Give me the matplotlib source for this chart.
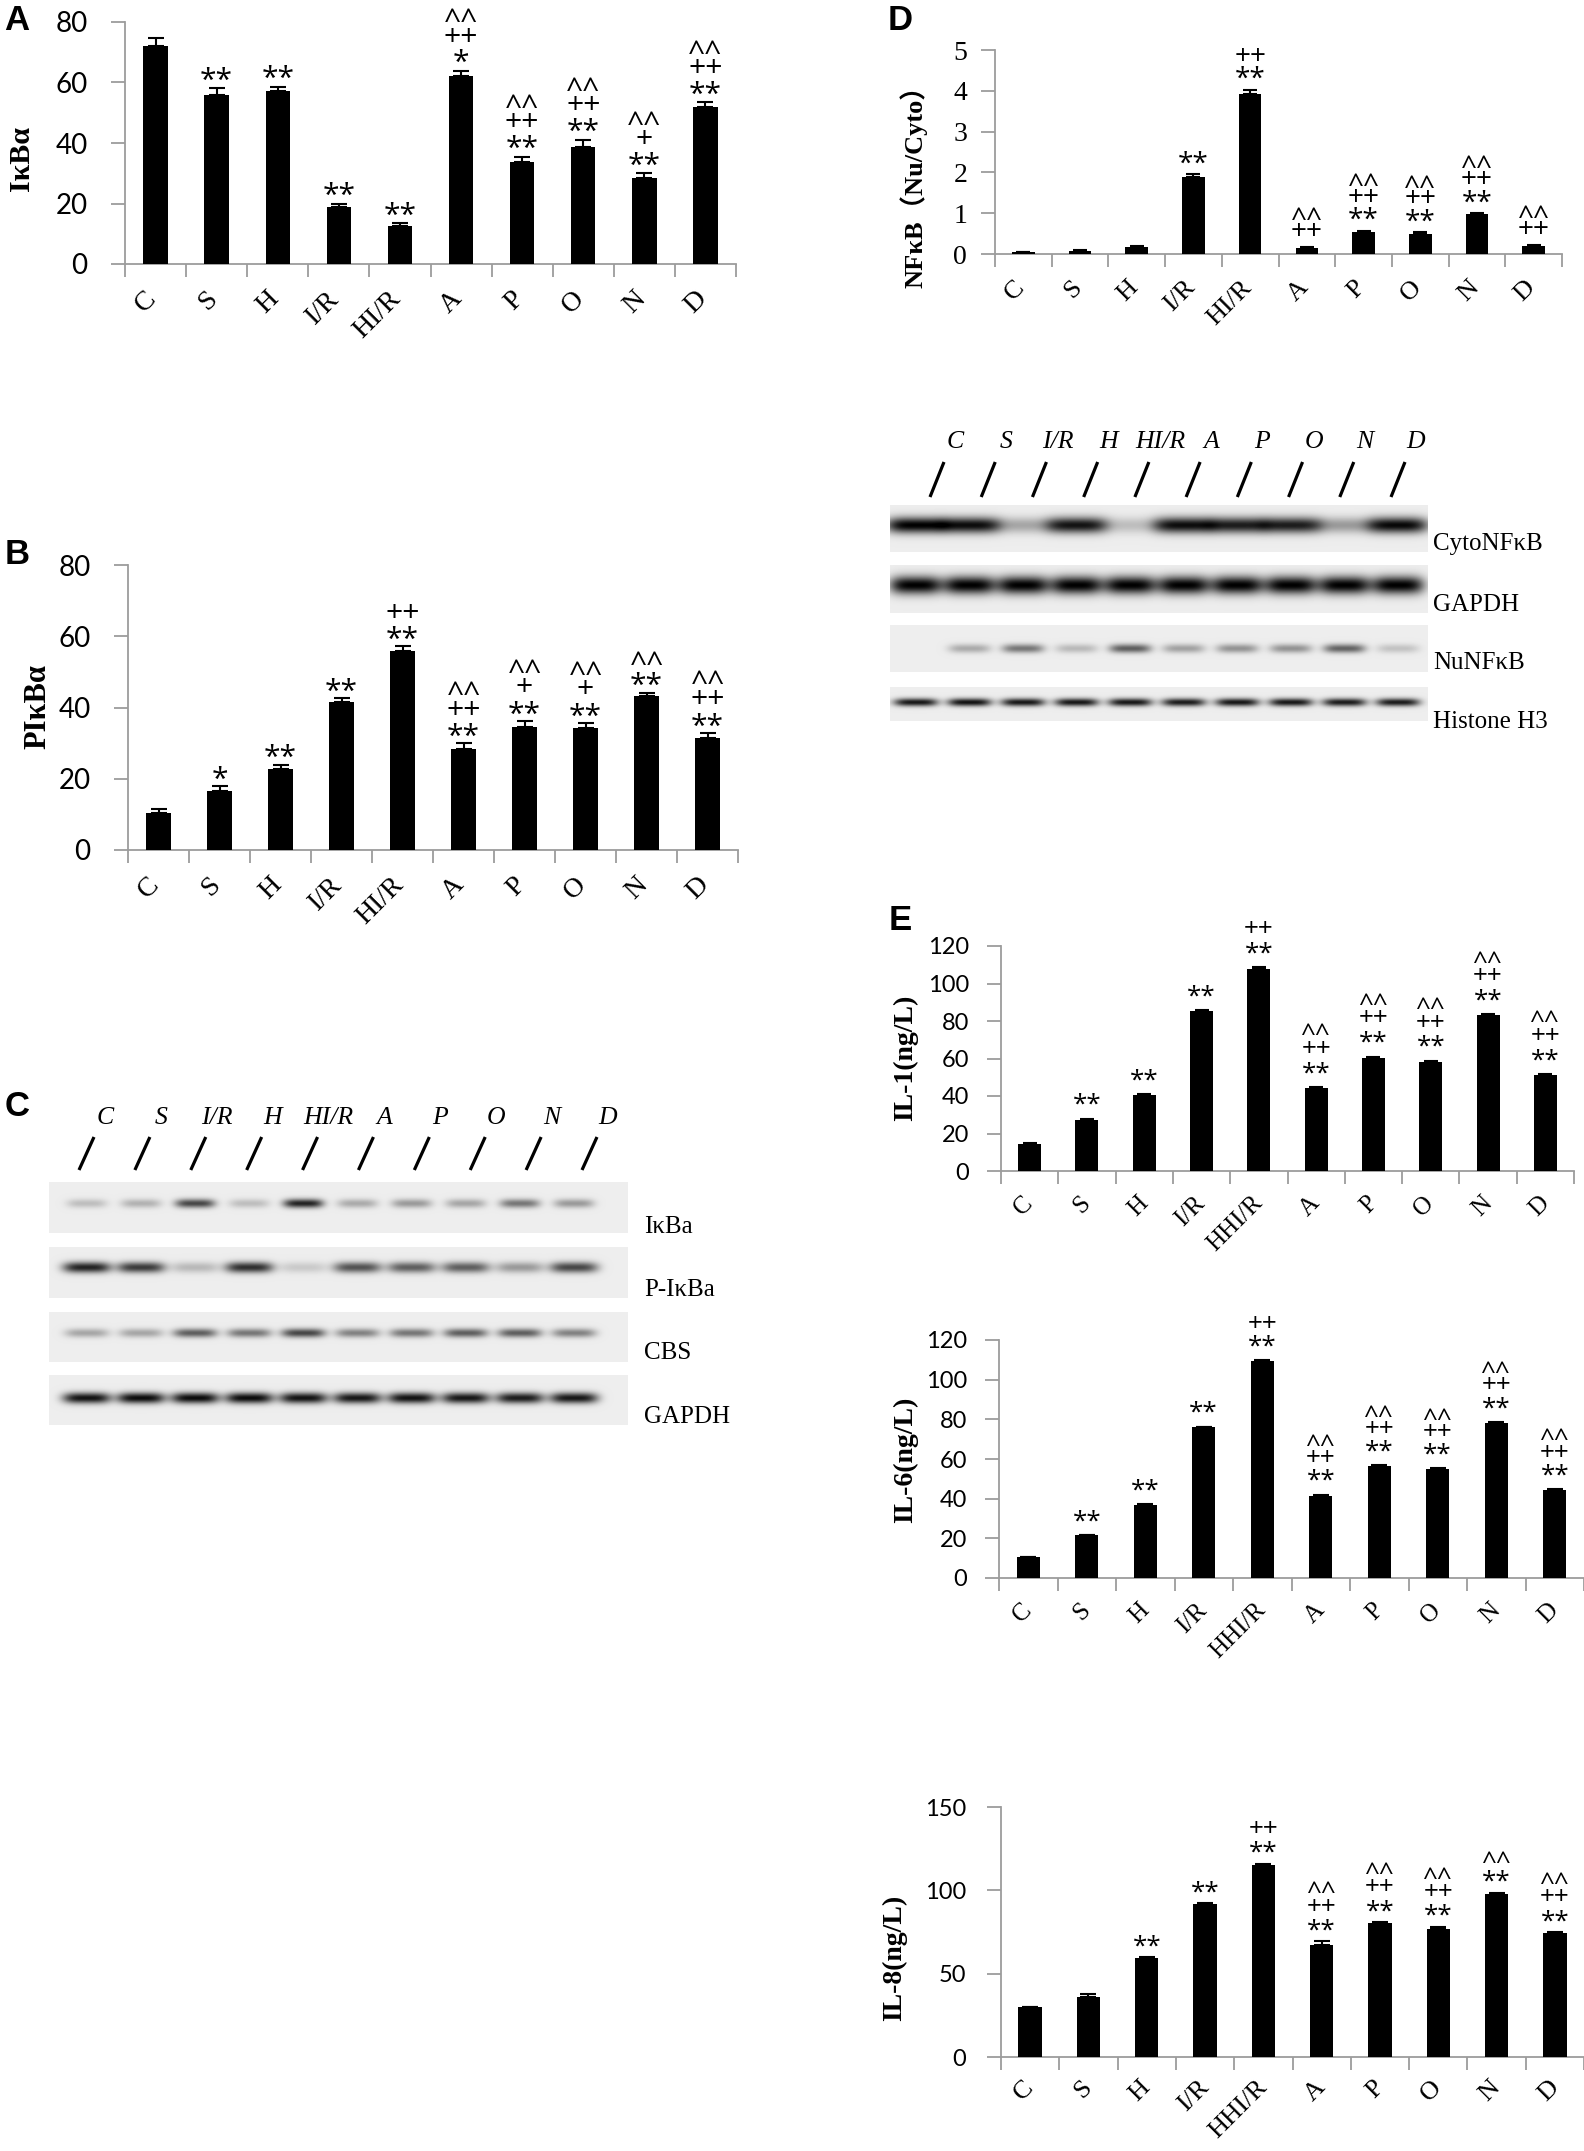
import matplotlib
matplotlib.use("Agg")
import matplotlib.pyplot as plt
import matplotlib.transforms as mtransforms
from matplotlib import font_manager as fm
import numpy as np

W, H = 1584, 2151
DPI = 100

# ── data ──────────────────────────────────────────────────────────
GROUPS = ["C", "S", "H", "I/R", "HI/R", "A", "P", "O", "N", "D"]
GROUPS_E = ["C", "S", "H", "I/R", "HHI/R", "A", "P", "O", "N", "D"]

IKBA = [72.1, 56.0, 57.3, 18.7, 12.7, 62.3, 33.6, 38.7, 28.5, 51.9]
IKBA_ERR = [2.7, 2.2, 1.3, 1.3, 0.9, 1.6, 1.9, 2.4, 1.5, 1.5]
IKBA_SIG = ["", "**", "**", "**", "**", "^^\n++\n*", "^^\n++\n**",
            "^^\n++\n**", "^^\n+\n**", "^^\n++\n**"]

PIKBA = [10.5, 16.7, 22.8, 41.5, 55.8, 28.3, 34.4, 34.3, 43.3, 31.4]
PIKBA_ERR = [1.1, 1.3, 1.2, 1.1, 1.4, 1.6, 1.8, 1.3, 0.9, 1.5]
PIKBA_SIG = ["", "*", "**", "**", "++\n**", "^^\n++\n**", "^^\n+\n**",
             "^^\n+\n**", "^^\n**", "^^\n++\n**"]

NFKB = [0.04, 0.08, 0.17, 1.89, 3.93, 0.14, 0.54, 0.50, 0.98, 0.19]
NFKB_ERR = [0.02, 0.02, 0.02, 0.07, 0.10, 0.02, 0.03, 0.03, 0.03, 0.02]
NFKB_SIG = ["", "", "", "**", "++\n**", "^^\n++", "^^\n++\n**",
            "^^\n++\n**", "^^\n++\n**", "^^\n++"]

IL1 = [14.2, 27.4, 40.5, 85.3, 108.0, 44.2, 60.5, 58.3, 83.0, 51.3]
IL1_ERR = [0.5, 0.6, 0.5, 0.5, 0.6, 0.5, 0.5, 0.5, 0.5, 0.5]
IL1_SIG = ["", "**", "**", "**", "++\n**", "^^\n++\n**", "^^\n++\n**",
           "^^\n++\n**", "^^\n++\n**", "^^\n++\n**"]

IL6 = [10.4, 21.5, 36.8, 76.0, 109.2, 41.5, 56.5, 55.0, 78.4, 44.3]
IL6_ERR = [0.3, 0.3, 0.6, 0.3, 0.5, 0.5, 0.3, 0.3, 0.3, 0.5]
IL6_SIG = ["", "**", "**", "**", "++\n**", "^^\n++\n**", "^^\n++\n**",
           "^^\n++\n**", "^^\n++\n**", "^^\n++\n**"]

IL8 = [29.8, 35.8, 59.4, 91.8, 115.5, 67.3, 80.5, 76.8, 98.0, 74.6]
IL8_ERR = [0.5, 2.0, 0.5, 0.5, 0.5, 2.2, 0.6, 1.5, 0.6, 0.5]
IL8_SIG = ["", "", "**", "**", "++\n**", "^^\n++\n**", "^^\n++\n**",
           "^^\n++\n**", "^^\n**", "^^\n++\n**"]

# western blots (relative band darkness per lane)
BLOT_C_LANES = ["C", "S", "I/R", "H", "HI/R", "A", "P", "O", "N", "D"]
BLOT_C_ROWS = ["IκBa", "P-IκBa", "CBS", "GAPDH"]
BLOT_C_IKBA = [0.20, 0.25, 0.70, 0.20, 0.85, 0.28, 0.35, 0.30, 0.50, 0.35]
BLOT_C_PIKBA = [0.85, 0.75, 0.22, 0.80, 0.15, 0.65, 0.60, 0.60, 0.35, 0.70]
BLOT_C_CBS = [0.30, 0.30, 0.60, 0.50, 0.70, 0.45, 0.50, 0.60, 0.60, 0.45]
BLOT_C_GAPDH = [0.92, 0.95, 0.95, 0.95, 0.92, 0.90, 0.92, 0.90, 0.88, 0.90]

BLOT_D_LANES = ["C", "S", "I/R", "H", "HI/R", "A", "P", "O", "N", "D"]
BLOT_D_ROWS = ["CytoNFκB", "GAPDH", "NuNFκB", "Histone H3"]
BLOT_D_CYTO = [1.00, 0.95, 0.30, 0.92, 0.20, 0.95, 0.88, 0.88, 0.35, 0.97]
BLOT_D_GAPDH = [1.00, 1.00, 1.00, 1.00, 1.00, 1.00, 1.00, 1.00, 1.00, 1.00]
BLOT_D_NU = [0.00, 0.28, 0.50, 0.22, 0.60, 0.32, 0.38, 0.38, 0.58, 0.18]
BLOT_D_H3 = [0.90, 0.92, 0.90, 0.90, 0.90, 0.88, 0.90, 0.90, 0.88, 0.88]

# ── fonts ─────────────────────────────────────────────────────────
avail = {f.name for f in fm.fontManager.ttflist}
NUM_FONT = "Lato" if "Lato" in avail else "DejaVu Sans"
SERIF = "Liberation Serif" if "Liberation Serif" in avail else "DejaVu Serif"
ANN_FONT = "Open Sans" if "Open Sans" in avail else "DejaVu Sans"
LETTER_FONT = "Liberation Sans" if "Liberation Sans" in avail else "DejaVu Sans"
GRAY = "#9c9c9c"

# glyph centre height above baseline (em) for the marker text
GLYPH_MID = {"*": 0.59, "+": 0.36, "^": 0.55}


def px_axes(fig, x0, x1, ytop, ybot):
    return fig.add_axes([x0 / W, 1 - ybot / H, (x1 - x0) / W, (ybot - ytop) / H])


def bar_panel(fig, box, labels, vals, errs, marks, ymax, yticks, ylabel,
              tick_font, tick_size, tick_pad, xlab_size, xlab_pad, xlab_dx,
              ylab_xy, ylab_size, ann_em, ann_first, ann_step, ylab_family=None):
    x0, x1, ytop, ybot = box
    ax = px_axes(fig, x0, x1, ytop, ybot)
    n = len(vals)
    x = np.arange(n)
    spacing = (x1 - x0) / n
    ax.bar(x, vals, width=0.4, color="black", zorder=3)
    ax.errorbar(x, vals, yerr=[np.zeros(n), errs], fmt="none", ecolor="black",
                elinewidth=1.5, capthick=1.5, capsize=0.13 * spacing * 0.72, zorder=4)
    ax.set_xlim(-0.5, n - 0.5)
    ax.set_ylim(0, ymax)
    for s in ("top", "right"):
        ax.spines[s].set_visible(False)
    for s in ("left", "bottom"):
        ax.spines[s].set_color(GRAY)
        ax.spines[s].set_linewidth(1.3)

    ax.set_yticks(yticks)
    ax.set_yticklabels([str(t) for t in yticks], fontfamily=tick_font, fontsize=tick_size)
    ax.tick_params(axis="y", length=10, width=1.3, color=GRAY, pad=tick_pad)

    ax.set_xticks(x)
    ax.set_xticklabels(labels, rotation=45, ha="right", va="top",
                       fontfamily=SERIF, fontsize=xlab_size)
    ax.tick_params(axis="x", which="major", length=0, pad=xlab_pad)
    ax.set_xticks(np.arange(-0.5, n), minor=True)
    ax.tick_params(axis="x", which="minor", length=9, width=1.3, color=GRAY)
    shift = mtransforms.ScaledTranslation(xlab_dx / DPI, 0, fig.dpi_scale_trans)
    for lab in ax.get_xticklabels():
        lab.set_transform(lab.get_transform() + shift)

    ax.set_ylabel(ylabel, fontfamily=ylab_family or SERIF, fontweight="bold",
                  fontsize=ylab_size, va="center", ha="center")
    lx, ly = ylab_xy
    ax.yaxis.set_label_coords((lx - x0) / (x1 - x0), (ybot - ly) / (ybot - ytop))

    ann_pt = ann_em * 72 / DPI
    for i, m in enumerate(marks):
        if not m:
            continue
        top = vals[i] + errs[i]
        for k, line in enumerate(reversed(m.split("\n"))):
            mid = ann_first + k * ann_step
            base = mid - GLYPH_MID[line[0]] * ann_em
            ax.annotate(line, (i, top), xytext=(0, base), textcoords="offset pixels",
                        ha="center", va="baseline", fontsize=ann_pt,
                        fontfamily=ANN_FONT, color="black", zorder=5)
    return ax


def strip_image(x0, x1, y0, y1, centers, amps, yc, bw, bh, bg=0.93):
    xs = np.arange(x0, x1) + 0.5
    ys = np.arange(y0, y1) + 0.5
    X, Y = np.meshgrid(xs, ys)
    dark = np.zeros_like(X)
    for xc, a in zip(centers, amps):
        dark += a * np.exp(-np.abs((X - xc) / (bw / 2)) ** 4) * np.exp(-((Y - yc) / (bh / 2)) ** 2)
    return bg * (1 - np.clip(dark, 0, 1))


def draw_blot(ov, lanes, rows, row_amps, strip_x, strips, band_x, band_sizes,
              slash_x, slash_y, slash_dx, label_y, row_label_x, row_label_dy):
    centers = np.linspace(band_x[0], band_x[1], len(lanes))
    for (y0, y1), amps, (bw, bh, frac), name, dy in zip(strips, row_amps, band_sizes, rows, row_label_dy):
        img = strip_image(strip_x[0], strip_x[1], y0, y1, centers, amps,
                          y0 + frac * (y1 - y0), bw, bh)
        ov.imshow(img, extent=(strip_x[0], strip_x[1], y1, y0), cmap="gray",
                  vmin=0, vmax=1, aspect="auto", interpolation="bilinear")
        ov.text(row_label_x, y1 - dy, name, fontfamily=SERIF, fontsize=18,
                ha="left", va="center")
    sx = np.linspace(slash_x[0], slash_x[1], len(lanes))
    for xb, lab in zip(sx, lanes):
        ov.plot([xb, xb + slash_dx], [slash_y[1], slash_y[0]], color="black",
                lw=2.3, solid_capstyle="butt")
        ov.text(xb + slash_dx + 11, label_y, lab, fontfamily=SERIF, style="italic",
                fontsize=18.5, ha="center", va="center")


def generate():
    fig = plt.figure(figsize=(W / DPI, H / DPI), dpi=DPI)
    fig.patch.set_facecolor("white")

    # A
    bar_panel(fig, (125, 736, 22, 264), GROUPS, IKBA, IKBA_ERR, IKBA_SIG, 80,
              [0, 20, 40, 60, 80], "IκBα", NUM_FONT, 20, 17, 20, 16, 6,
              (22, 159), 21.5, 30, 17, 20)
    # B
    bar_panel(fig, (128, 738, 565, 850), GROUPS, PIKBA, PIKBA_ERR, PIKBA_SIG, 80,
              [0, 20, 40, 60, 80], "PIκBα", NUM_FONT, 20, 17, 20, 16, 6,
              (38, 707), 22, 30, 16, 20.5)
    # D
    bar_panel(fig, (995, 1562, 50, 254), GROUPS, NFKB, NFKB_ERR, NFKB_SIG, 5,
              [0, 1, 2, 3, 4, 5], "NFκB（Nu/Cyto）", SERIF, 20, 10, 19, 16, 6,
              (914, 180), 19, 28, 19, 17,
              ylab_family=[SERIF, "Noto Sans CJK SC"])
    # E
    bar_panel(fig, (1001, 1574, 946, 1171), GROUPS_E, IL1, IL1_ERR, IL1_SIG, 120,
              [0, 20, 40, 60, 80, 100, 120], "IL-1(ng/L)", NUM_FONT, 17, 13, 18, 15, 8,
              (906, 1058), 20, 26, 22, 18.5)
    bar_panel(fig, (999, 1584, 1340, 1578), GROUPS_E, IL6, IL6_ERR, IL6_SIG, 120,
              [0, 20, 40, 60, 80, 100, 120], "IL-6(ng/L)", NUM_FONT, 17, 13, 18, 15, 8,
              (906, 1460), 20, 26, 22, 17)
    bar_panel(fig, (1001, 1584, 1807, 2057), GROUPS_E, IL8, IL8_ERR, IL8_SIG, 150,
              [0, 50, 100, 150], "IL-8(ng/L)", NUM_FONT, 17, 15, 19, 14, 8,
              (895, 1958), 20, 26, 19, 18)

    # overlay in pixel coordinates for blots and panel letters
    ov = fig.add_axes([0, 0, 1, 1])
    ov.axis("off")

    draw_blot(ov, BLOT_C_LANES, BLOT_C_ROWS,
              [BLOT_C_IKBA, BLOT_C_PIKBA, BLOT_C_CBS, BLOT_C_GAPDH],
              (49, 628), [(1182, 1233), (1247, 1298), (1312, 1362), (1375, 1425)],
              (87, 574), [(40, 9, 0.42), (48, 11, 0.40), (44, 9, 0.42), (48, 11, 0.46)],
              (79, 582), (1137, 1170), 15, 1118, 644, [6, 8, 9, 8])

    draw_blot(ov, BLOT_D_LANES, BLOT_D_ROWS,
              [BLOT_D_CYTO, BLOT_D_GAPDH, BLOT_D_NU, BLOT_D_H3],
              (890, 1428), [(505, 552), (565, 613), (625, 672), (687, 721)],
              (916, 1398), [(60, 16, 0.43), (52, 18, 0.42), (42, 9, 0.50), (44, 8, 0.45)],
              (930, 1391), (462, 497), 14, 442, 1433, [8, 8, 9, -1])

    for letter, (lx, ly) in {"A": (17, 20), "B": (17, 554), "C": (17, 1107),
                             "D": (900, 20), "E": (900, 920)}.items():
        ov.text(lx, ly, letter, fontfamily=LETTER_FONT, fontweight="bold",
                fontsize=25, ha="center", va="center")

    ov.set_xlim(0, W)
    ov.set_ylim(H, 0)

    fig.savefig("out.png", dpi=DPI, facecolor="white")
    plt.close(fig)


if __name__ == "__main__":
    generate()
